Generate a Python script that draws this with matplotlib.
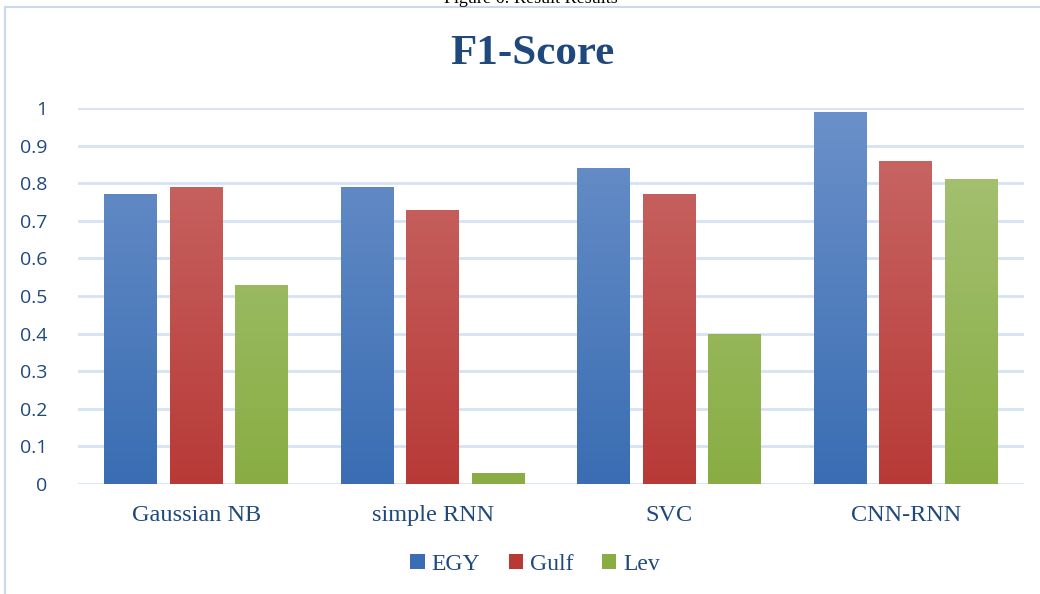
import matplotlib
matplotlib.use("Agg")
import matplotlib.pyplot as plt
import numpy as np
from matplotlib.colors import LinearSegmentedColormap
from matplotlib.patches import Rectangle

# data
models = ["Gaussian NB", "simple RNN", "SVC", "CNN-RNN"]
series = ["EGY", "Gulf", "Lev"]
egy = [0.77, 0.79, 0.84, 0.99]
gulf = [0.79, 0.73, 0.77, 0.86]
lev = [0.53, 0.03, 0.40, 0.81]
yticks = [0, 0.1, 0.2, 0.3, 0.4, 0.5, 0.6, 0.7, 0.8, 0.9, 1]

# colours: (top, bottom) of gradient
grads = {"EGY": ("#6b91c9", "#3a6db3"),
         "Gulf": ("#c96b69", "#b83a37"),
         "Lev": ("#a9c47a", "#89ad43")}
text_col = "#1f497d"
grid_col = "#d6e2f3"

W, H = 1040, 594
fig = plt.figure(figsize=(W / 100, H / 100), dpi=100)
fig.patch.set_facecolor("white")

# chart frame
fig.add_artist(Rectangle((5 / W, -0.05), 1.1, 1 - 7 / H + 0.05, transform=fig.transFigure,
                         fill=False, edgecolor="#c9daf0", lw=1.5))
# caption above the frame (cut off by the top edge, as in the source)
fig.text(0.51, 1 - 3 / H, "Figure 6: Result Results", ha="center", va="baseline",
         fontsize=13, family="Liberation Serif", color="black")

ax = fig.add_axes([78 / W, 1 - 484 / H, (1024 - 78) / W, (484 - 108) / H])
x = np.arange(len(models))
bw = 0.224
step = 0.277
vals = [egy, gulf, lev]

for i, (name, v) in enumerate(zip(series, vals)):
    top, bot = grads[name]
    bars = ax.bar(x + (i - 1) * step, v, width=bw, color=bot, label=name, zorder=3)
    cmap = LinearSegmentedColormap.from_list(name, [bot, top])
    grad = np.linspace(0, 1, 256).reshape(-1, 1)
    for b in bars:
        bx = b.get_x()
        im = ax.imshow(grad, cmap=cmap, origin="lower", aspect="auto",
                       extent=[bx, bx + b.get_width(), 0, 1], zorder=4)
        im.set_clip_path(b)

ax.set_xlim(-0.5, len(models) - 0.5)
ax.set_ylim(0, 1)

ax.set_yticks(yticks)
ax.set_yticklabels([f"{t:g}" for t in yticks])
ax.set_xticks(x)
ax.set_xticklabels(models)
ax.grid(axis="y", color=grid_col, lw=2, zorder=0)
ax.set_axisbelow(True)
for s in ax.spines.values():
    s.set_visible(False)
ax.tick_params(axis="both", length=0)
ax.tick_params(axis="y", pad=22, labelsize=14, labelcolor=text_col)
ax.tick_params(axis="x", pad=15, labelsize=17.5, labelcolor=text_col)
for lab in ax.get_yticklabels():
    lab.set_family("Open Sans")
for lab in ax.get_xticklabels():
    lab.set_family("Liberation Serif")

fig.text(532 / W, 1 - 54 / H, "F1-Score", ha="center", va="center", fontsize=31,
         fontweight="bold", family="Liberation Serif", color=text_col)

leg = fig.legend(loc="center", bbox_to_anchor=(535 / W, 1 - 564 / H), ncol=3, frameon=False,
                 prop={"family": "Liberation Serif", "size": 17}, handlelength=0.6,
                 handleheight=0.6, handletextpad=0.3, columnspacing=1.2)
for t in leg.get_texts():
    t.set_color(text_col)

fig.savefig("out.png", dpi=100, facecolor="white")
